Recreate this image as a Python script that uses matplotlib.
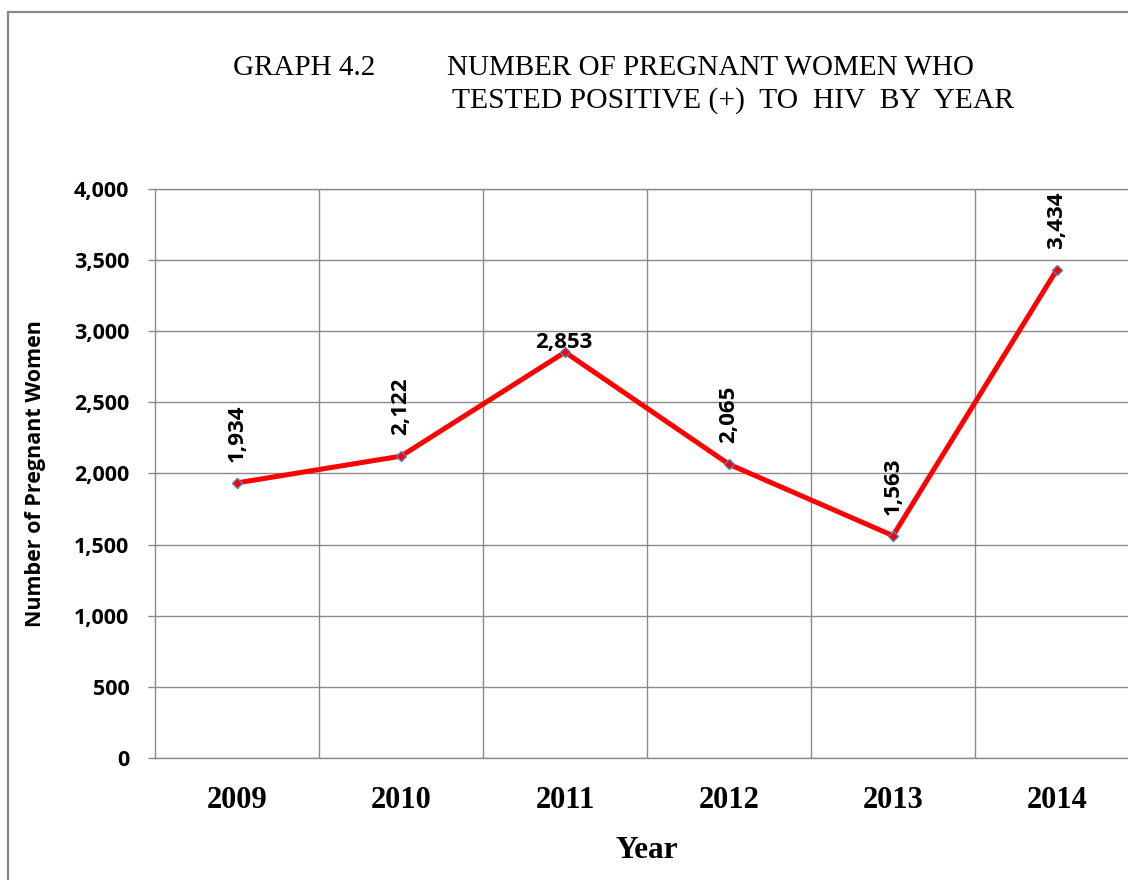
import matplotlib.pyplot as plt
from matplotlib.patches import Rectangle
from matplotlib.ticker import FuncFormatter, MultipleLocator, FixedLocator

# data
years = ['2009', '2010', '2011', '2012', '2013', '2014']
positives = [1934, 2122, 2853, 2065, 1563, 3434]
label_rot = [90, 90, 0, 90, 90, 90]

W, H = 1128, 880
grid_col = '#8a8a8a'

fig = plt.figure(figsize=(W / 100, H / 100), dpi=100)
# plot area runs past the right edge like in the original scan
ax = fig.add_axes([155 / W, 122 / H, 984 / W, 569 / H])

x = list(range(len(years)))
ax.plot(x, positives, color='#ff0000', lw=3.6, marker='D', ms=5,
        mfc='#ff0000', mec='#4f81bd', mew=1.0, zorder=3, clip_on=False)

for xi, v, rot in zip(x, positives, label_rot):
    if rot == 90:
        ax.annotate(f'{v:,}', (xi, v), xytext=(0, 15), textcoords='offset points',
                    rotation=90, ha='center', va='bottom', fontsize=16,
                    fontweight='bold', family='Open Sans')
    else:
        ax.annotate(f'{v:,}', (xi, v), xytext=(-1, 3), textcoords='offset points',
                    ha='center', va='baseline', fontsize=16,
                    fontweight='bold', family='Open Sans')

ax.set_xlim(-0.5, len(years) - 0.5)
ax.set_ylim(0, 4000)
ax.yaxis.set_major_locator(MultipleLocator(500))
ax.yaxis.set_major_formatter(FuncFormatter(lambda v, p: f'{int(v):,}'))
ax.set_xticks(x)
ax.set_xticklabels(years)
ax.xaxis.set_minor_locator(FixedLocator([i + 0.5 for i in x]))

ax.grid(True, axis='y', which='major', color=grid_col, lw=1.0)
ax.grid(True, axis='x', which='minor', color=grid_col, lw=1.0)
ax.grid(False, axis='x', which='major')
ax.set_axisbelow(True)

for side in ['left', 'bottom', 'top']:
    ax.spines[side].set_color(grid_col)
    ax.spines[side].set_linewidth(1.0)
ax.spines['right'].set_visible(False)

ax.tick_params(axis='y', length=5, width=1, color=grid_col, pad=13.5)
ax.tick_params(axis='x', which='both', length=0, pad=20)
for lab in ax.get_yticklabels():
    lab.set_family('Open Sans')
    lab.set_fontweight('bold')
    lab.set_fontsize(15.5)
for lab in ax.get_xticklabels():
    lab.set_family('Liberation Serif')
    lab.set_fontweight('bold')
    lab.set_fontsize(22)

ax.set_ylabel('Number of Pregnant Women', family='Open Sans', fontweight='bold',
              fontsize=15.5)
ax.yaxis.set_label_coords(-0.111, 0.5)
ax.set_xlabel('Year', family='Liberation Serif', fontweight='bold', fontsize=22.5)
ax.xaxis.set_label_coords(0.5, -0.137)

# title, typed the way the source document spaces it
fig.text(233 / W, 1 - 75 / H, 'GRAPH 4.2', family='Liberation Serif',
         fontsize=21, va='baseline', ha='left')
fig.text(447 / W, 1 - 75 / H, 'NUMBER OF PREGNANT WOMEN WHO',
         family='Liberation Serif', fontsize=21, va='baseline', ha='left')
fig.text(452 / W, 1 - 108 / H, 'TESTED POSITIVE (+)  TO  HIV  BY  YEAR',
         family='Liberation Serif', fontsize=21.3, va='baseline', ha='left')

# outer chart frame (cut off at right and bottom)
fig.patches.append(Rectangle((8 / W, -0.1), 1.2, 1.1 - 12.5 / H,
                             transform=fig.transFigure, fill=False,
                             edgecolor='#888888', lw=1.6))

fig.savefig('out.png', dpi=100)
